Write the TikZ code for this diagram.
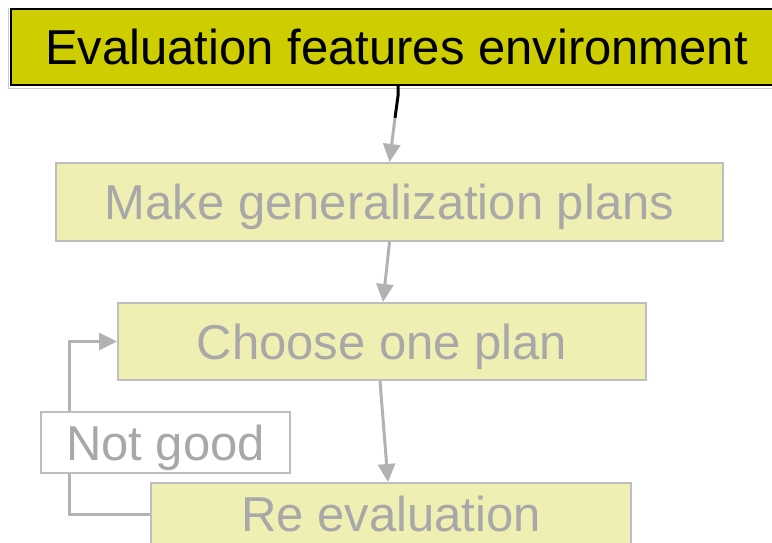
\documentclass[tikz,border=0pt]{standalone}
\usepackage{fontspec}
\setmainfont{Liberation Sans}
\usetikzlibrary{arrows.meta}
\definecolor{headfill}{RGB}{205,205,0}
\definecolor{boxfill}{RGB}{239,239,180}
\definecolor{boxline}{RGB}{190,190,190}
\definecolor{boxtext}{RGB}{168,168,168}
\definecolor{linegray}{RGB}{178,178,178}
\begin{document}
\begin{tikzpicture}[x=1pt,y=-1pt,
  label font/.style={font=\fontsize{49}{58}\selectfont, inner sep=0pt, text height=35pt, text depth=0pt},
  headbox/.style={label font, draw=black, line width=2pt, fill=headfill, text=black},
  box/.style={label font, draw=boxline, line width=2pt, fill=boxfill, text=boxtext},
  notebox/.style={label font, draw=boxline, line width=2pt, fill=white, text=boxtext},
  arr/.style={draw=linegray, line width=3pt, -{Triangle[width=17pt,length=18pt]}}]
\useasboundingbox (0,0) rectangle (772,542);
\clip (0,0) rectangle (772,542);

% process boxes
\node[headbox, minimum width=771pt, minimum height=76pt] (eval) at (396.5,47) {Evaluation features environment};
\draw[gray!40, line width=1pt] ([shift={(-2,0)}]eval.north west) -- ([shift={(-2,2)}]eval.south west) -- ([shift={(0,2)}]eval.south east);
\node[box, minimum width=667pt, minimum height=78pt] (plans) at (389.5,202) {Make generalization plans};
\node[box, minimum width=528pt, minimum height=77pt] (choose) at (382,341.5) {Choose one plan};
\node[box, minimum width=480pt, minimum height=62pt] (reeval) at (391,514) {Re evaluation};

% flow arrows
\coordinate (j1) at (395,118);
\draw[black, line width=3pt] ([xshift=1.5pt]eval.south) -- ++(0,10) -- (j1);
\draw[arr] (j1) -- (plans.north);
\draw[arr] (plans.south) -- ([xshift=1pt]choose.north);
\draw[arr] ([xshift=-2pt]choose.south) -- ([xshift=-3pt]reeval.north);

% feedback loop
\draw[arr] (reeval.west) -- ++(-81,0) |- (choose.west);
\node[notebox, minimum width=249pt, minimum height=61pt] (notgood) at (165.5,442.5) {Not good};
\end{tikzpicture}
\end{document}
